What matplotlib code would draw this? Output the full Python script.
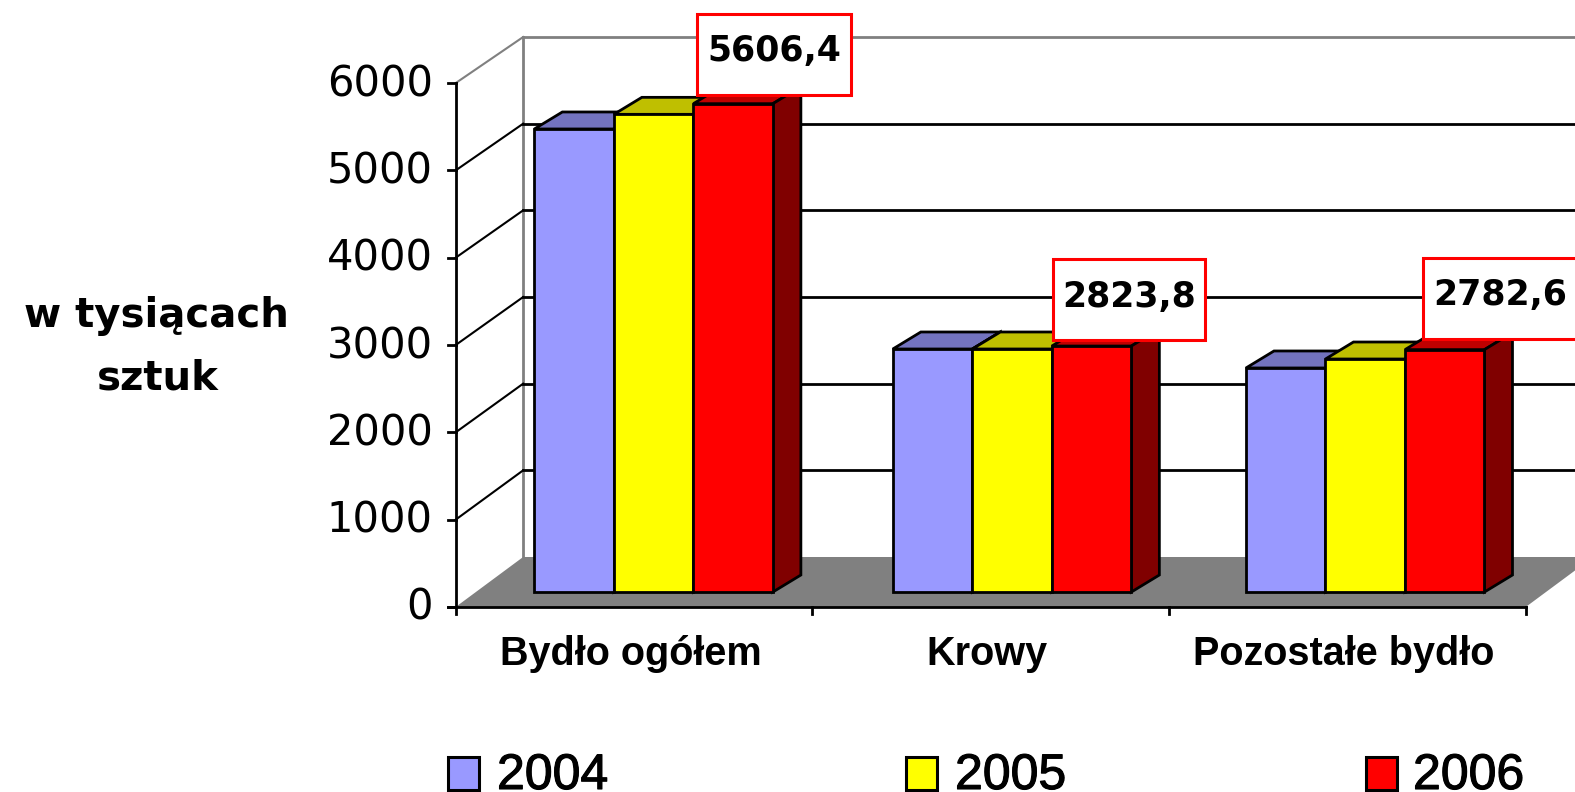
import matplotlib
matplotlib.use("Agg")
import matplotlib.pyplot as plt
import matplotlib.patheffects as pe
from matplotlib.patches import Polygon, Rectangle

categories = ["Bydło ogółem", "Krowy", "Pozostałe bydło"]
years = ["2004", "2005", "2006"]
v2004 = [5316, 2790, 2572]
v2005 = [5484, 2790, 2675]
v2006 = [5606.4, 2823.8, 2782.6]
y_ticks = [0, 1000, 2000, 3000, 4000, 5000, 6000]
label_texts = ["5606,4", "2823,8", "2782,6"]

front_colors = ["#9999FF", "#FFFF00", "#FF0000"]
top_colors = ["#7373BF", "#BFBF00", "#BF0000"]
side_colors = ["#4D4D80", "#808000", "#800000"]

# layout: one axes over the whole picture, x in categories, y in values
W, H = 1575, 792
PX_X = 356.7
PX_Y = 0.0871
X0 = 634
Y0 = 592

fig = plt.figure(figsize=(W / 100, H / 100), dpi=100)
ax = fig.add_axes([0, 0, 1, 1])
ax.set_xlim(-X0 / PX_X, (W - X0) / PX_X)
ax.set_ylim((Y0 - H) / PX_Y, Y0 / PX_Y)
ax.axis("off")

def dx(px):
    return px / PX_X

def dy(px):
    return px / PX_Y

def front_y(v):
    return v * 1.0025 - dy(15)

def wall_y(v):
    return v * 0.995 + dy(35)

ax_left = -0.5
wall_left = ax_left + dx(67.5)
ax_right = 2.5
wall_right = ax_right + dx(67.5)
LW = 2.0
heavy = [pe.withStroke(linewidth=0.8, foreground="black")]

# floor and walls
ax.add_patch(Polygon([(ax_left, front_y(0)), (ax_right, front_y(0)), (wall_right, wall_y(0)), (wall_left, wall_y(0))],
                     closed=True, fc="#808080", ec="none", zorder=1))
ax.plot([wall_left, wall_left], [wall_y(0), wall_y(6000)], color="#808080", lw=LW, zorder=1)
ax.plot([wall_left, wall_right], [wall_y(6000), wall_y(6000)], color="#808080", lw=LW, zorder=1)
ax.plot([ax_left, wall_left], [front_y(6000), wall_y(6000)], color="#808080", lw=1.5, zorder=1)
for v in y_ticks[1:-1]:
    ax.plot([ax_left, wall_left], [front_y(v), wall_y(v)], color="black", lw=1.5, zorder=2)
    ax.plot([wall_left, wall_right], [wall_y(v), wall_y(v)], color="black", lw=LW, zorder=2)

# axis lines and ticks
ax.plot([ax_left, ax_left], [front_y(0), front_y(6000)], color="black", lw=LW, zorder=3)
ax.plot([ax_left - dx(8), ax_right], [front_y(0), front_y(0)], color="black", lw=LW, zorder=3)
for v in y_ticks:
    ax.plot([ax_left - dx(8), ax_left], [front_y(v), front_y(v)], color="black", lw=LW, zorder=3)
    ax.text(ax_left - dx(23), front_y(v) - dy(1), str(v), ha="right", va="center",
            fontsize=30, family="DejaVu Sans", zorder=5)
for i in range(4):
    ax.plot([ax_left + i, ax_left + i], [front_y(0), front_y(0) - dy(7)], color="black", lw=LW, zorder=3)

# bars
bar_w = 79.5 / PX_X
shifts = [0.055, 0.06, 0.05]
depth_x = dx(28)
depth_y = dy(17)
for s, vals in enumerate([v2004, v2005, v2006]):
    xs = [i + shifts[i] + (s - 1) * bar_w for i in range(3)]
    for x, v in zip(xs, vals):
        x1 = x - bar_w / 2
        x2 = x + bar_w / 2
        ax.add_patch(Polygon([(x1, v), (x1 + depth_x, v + depth_y), (x2 + depth_x, v + depth_y), (x2, v)],
                             closed=True, fc=top_colors[s], ec="black", lw=LW, zorder=6 + s))
        ax.add_patch(Polygon([(x2, 0), (x2 + depth_x, depth_y), (x2 + depth_x, v + depth_y), (x2, v)],
                             closed=True, fc=side_colors[s], ec="black", lw=LW, zorder=6 + s))
    ax.bar(xs, vals, bar_w, color=front_colors[s], edgecolor="black", linewidth=LW, zorder=10 + s)

# value labels
box_w = [154, 152, 154]
box_h = 81
box_bottom = [5606.4 + dy(9), 2823.8 + dy(6), 2782.6 + dy(11)]
box_left = [697, 1053, 1423]
for i, t in enumerate(label_texts):
    left = (box_left[i] - X0) / PX_X
    ax.add_patch(Rectangle((left, box_bottom[i]), dx(box_w[i]), dy(box_h), fc="white", ec="#FF0000", lw=2.2, zorder=20))
    ax.text(left + dx(box_w[i]) / 2, box_bottom[i] + dy(box_h) / 2 + dy(3), t, ha="center", va="center",
            fontsize=25, fontweight="bold", family="DejaVu Sans", zorder=21)

# category labels
for i, c in enumerate(categories):
    ax.text(i - 0.01, front_y(0) - dy(47), c, ha="center", va="center", fontsize=28.5, fontweight="bold",
            family="Liberation Sans", zorder=5)

# y axis title
ax.text((156 - X0) / PX_X, (Y0 - 316) / PX_Y, "w tysiącach", ha="center", va="center", fontsize=29,
        fontweight="bold", family="DejaVu Sans")
ax.text((158 - X0) / PX_X, (Y0 - 378) / PX_Y, "sztuk", ha="center", va="center", fontsize=29,
        fontweight="bold", family="DejaVu Sans")

# legend
leg_x = [448, 906, 1366]
text_x = [497, 955, 1413]
for i, y in enumerate(years):
    ax.add_patch(Rectangle(((leg_x[i] - X0) / PX_X, (Y0 - 790) / PX_Y), dx(31), dy(33), fc=front_colors[i],
                           ec="black", lw=2.2, zorder=5, clip_on=False))
    ax.text((text_x[i] - X0) / PX_X, (Y0 - 789) / PX_Y, y, ha="left", va="baseline", fontsize=36,
            family="Liberation Sans", path_effects=heavy)

fig.savefig("out.png", dpi=100)
